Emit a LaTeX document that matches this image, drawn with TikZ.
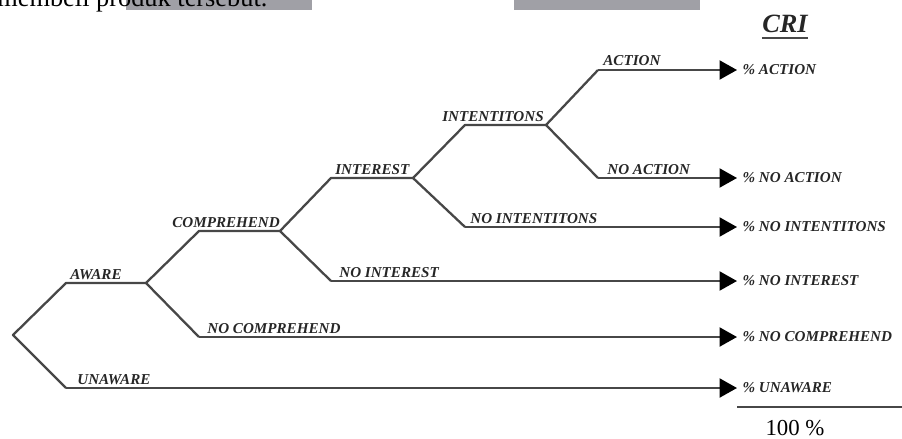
\documentclass[tikz,border=0pt]{standalone}
\usepackage{fontspec}
\setmainfont{Liberation Serif}
\usetikzlibrary{arrows.meta}
\tikzset{>={Triangle[length=3.5mm,width=3.8mm,black]}}
\colorlet{branch}{black!72}
\definecolor{hilite}{RGB}{160,160,166}
\tikzset{
  tree/.style={draw=branch,line width=1.3pt,line join=round},
  lbl/.style={font=\fontsize{8.6}{10}\selectfont\bfseries\itshape,text=black!85,inner sep=0pt,anchor=base west},
  pct/.style={font=\fontsize{8.6}{10}\selectfont\bfseries\itshape,text=black!85,anchor=west,inner xsep=3pt,inner ysep=0pt}
}

\begin{document}
\begin{tikzpicture}[x=0.02cm,y=-0.02cm]
  \useasboundingbox (0,0) rectangle (902,439);
  % cut-off page text above the figure
  \fill[hilite] (126,0) rectangle (312,10);
  \fill[hilite] (514,0) rectangle (700,10);
  \node[anchor=base west,inner sep=0pt,font=\fontsize{15}{18}\selectfont] (page) at (-3,7) {membeli produk tersebut.};
  % branch points
  \coordinate (root) at (13,335);
  \coordinate (aw) at (66,283);   \coordinate (awE) at (146,283);
  \coordinate (un) at (66,388);
  \coordinate (co) at (199,231);  \coordinate (coE) at (280,231);
  \coordinate (nco) at (199,337);
  \coordinate (in) at (331,178);  \coordinate (inE) at (413,178);
  \coordinate (nin) at (331,281);
  \coordinate (it) at (465,125);  \coordinate (itE) at (546,125);
  \coordinate (nit) at (465,227);
  \coordinate (ac) at (598,70);
  \coordinate (nac) at (598,178);
  % results
  \node[pct] (pAc) at (737,70) {\% ACTION};
  \node[pct] (pNac) at (737,178) {\% NO ACTION};
  \node[pct] (pNit) at (737,227) {\% NO INTENTITONS};
  \node[pct] (pNin) at (737,281) {\% NO INTEREST};
  \node[pct] (pNco) at (737,337) {\% NO COMPREHEND};
  \node[pct] (pUn) at (737,388) {\% UNAWARE};
  % tree
  \draw[tree] (awE) -- (aw) -- (root) -- (un);
  \draw[tree,->] (un) -- (pUn.west);
  \draw[tree] (coE) -- (co) -- (awE) -- (nco);
  \draw[tree,->] (nco) -- (pNco.west);
  \draw[tree] (inE) -- (in) -- (coE) -- (nin);
  \draw[tree,->] (nin) -- (pNin.west);
  \draw[tree] (itE) -- (it) -- (inE) -- (nit);
  \draw[tree,->] (nit) -- (pNit.west);
  \draw[tree] (ac) -- (itE) -- (nac);
  \draw[tree,->] (ac) -- (pAc.west);
  \draw[tree,->] (nac) -- (pNac.west);
  % branch labels
  \node[lbl] (lAw) at (70,279) {AWARE};
  \node[lbl] (lUn) at (77,384) {UNAWARE};
  \node[lbl] (lCo) at (172,227) {COMPREHEND};
  \node[lbl] (lNco) at (207,333) {NO COMPREHEND};
  \node[lbl] (lIn) at (335,174) {INTEREST};
  \node[lbl] (lNin) at (339,277) {NO INTEREST};
  \node[lbl] (lIt) at (442,121) {INTENTITONS};
  \node[lbl] (lNit) at (470,223) {NO INTENTITONS};
  \node[lbl] (lAc) at (603,66) {ACTION};
  \node[lbl] (lNac) at (607,174) {NO ACTION};
  % CRI column
  \node[anchor=base,inner sep=0pt,font=\fontsize{15}{18}\selectfont\bfseries\itshape,text=black!85] (cri) at (785,33) {CRI};
  \draw[branch,line width=1pt] ([yshift=-3pt]cri.base west) -- ([yshift=-3pt]cri.base east);
  \coordinate (sumL) at (737,407);
  \coordinate (sumR) at (902,407);
  \draw[branch,line width=0.8pt] (sumL) -- (sumR);
  \node[font=\fontsize{13}{15}\selectfont,inner sep=0pt] (total) at (795,428) {100 \%};
\end{tikzpicture}
\end{document}
